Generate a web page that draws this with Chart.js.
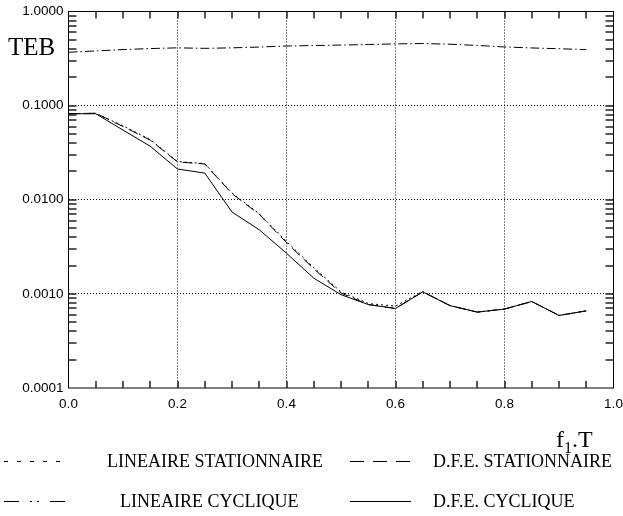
<!DOCTYPE html>
<html>
<head>
<meta charset="utf-8">
<script src="https://cdn.jsdelivr.net/npm/chart.js@4"></script>
<style>
  html, body { margin: 0; padding: 0; background: #fff; }
  #chart { display: block; }
</style>
</head>
<body>
<canvas id="chart" width="623" height="516"></canvas>
<script>
const fT = [0.00, 0.05, 0.10, 0.15, 0.20, 0.25, 0.30, 0.35, 0.40, 0.45,
            0.50, 0.55, 0.60, 0.65, 0.70, 0.75, 0.80, 0.85, 0.90, 0.95];

const lineaireStationnaire = [0.082, 0.083, 0.061, 0.0435, 0.0255, 0.0242, 0.0118, 0.0071, 0.0036, 0.0019,
                              0.00105, 0.00079, 0.00074, 0.00106, 0.00075, 0.00064, 0.00069, 0.00083, 0.00059, 0.00066];
const dfeStationnaire = [0.082, 0.083, 0.060, 0.043, 0.0252, 0.0240, 0.0116, 0.0070, 0.0035, 0.00185,
                         0.00102, 0.00077, 0.00070, 0.00105, 0.00075, 0.00064, 0.00069, 0.00083, 0.00059, 0.00066];
const lineaireCyclique = [0.369, 0.381, 0.394, 0.404, 0.411, 0.406, 0.411, 0.419, 0.430, 0.435,
                          0.440, 0.446, 0.453, 0.457, 0.449, 0.436, 0.420, 0.410, 0.402, 0.394];
const dfeCyclique = [0.082, 0.082, 0.055, 0.037, 0.0212, 0.0192, 0.0074, 0.0048, 0.0027, 0.00147,
                     0.00098, 0.00077, 0.00070, 0.00105, 0.00075, 0.00064, 0.00069, 0.00083, 0.00059, 0.00066];

const xTicks = [0.0, 0.2, 0.4, 0.6, 0.8, 1.0];
const yTicks = [0.0001, 0.001, 0.01, 0.1, 1];

const seriesLabels = ['LINEAIRE STATIONNAIRE', 'D.F.E. STATIONNAIRE', 'LINEAIRE CYCLIQUE', 'D.F.E. CYCLIQUE'];

function points(values) {
    return values.map((v, i) => ({ x: fT[i], y: v }));
}

// legend samples are drawn by hand, the dash patterns of the sample are not the line ones
const legendSpots = [
    { x: 4, y: 461, tx: 107, dash: [4, 9] },
    { x: 350, y: 461, tx: 433, dash: [14, 9] },
    { x: 4, y: 501, tx: 120, dash: [15, 11, 2, 5, 2, 11, 15] },
    { x: 350, y: 501, tx: 433, dash: [] }
];

const framePlugin = {
    id: 'frame',
    afterDraw(chart) {
        const ctx = chart.ctx;
        const a = chart.chartArea;
        const xs = chart.scales.x;
        const ys = chart.scales.y;

        ctx.save();
        ctx.setLineDash([]);
        ctx.strokeStyle = '#000';
        ctx.lineWidth = 1;
        ctx.strokeRect(a.left, a.top, a.right - a.left, a.bottom - a.top);

        // inward ticks: every 0.05 on x, 1..9 per decade on y
        ctx.strokeStyle = '#222';
        ctx.lineWidth = 1.5;
        ctx.beginPath();
        for (let k = 1; k < 20; k++) {
            const px = Math.round(xs.getPixelForValue(k / 20));
            ctx.moveTo(px, a.bottom);
            ctx.lineTo(px, a.bottom - 7);
            ctx.moveTo(px, a.top);
            ctx.lineTo(px, a.top + 7);
        }
        for (let d = -4; d < 0; d++) {
            for (let m = 1; m <= 9; m++) {
                if (d === -4 && m === 1) continue;
                const py = Math.round(ys.getPixelForValue(m * Math.pow(10, d)));
                ctx.moveTo(a.left, py);
                ctx.lineTo(a.left + 8, py);
                ctx.moveTo(a.right, py);
                ctx.lineTo(a.right - 8, py);
            }
        }
        ctx.stroke();
        ctx.strokeStyle = '#000';

        ctx.fillStyle = '#000';
        ctx.textBaseline = 'alphabetic';
        ctx.font = '25px "Liberation Serif"';
        ctx.fillText('TEB', 8, 55);

        ctx.font = '24px "Liberation Serif"';
        ctx.fillText('f', 556, 447);
        let w = ctx.measureText('f').width;
        ctx.font = '16px "Liberation Serif"';
        ctx.fillText('1', 556 + w, 453);
        w += ctx.measureText('1').width;
        ctx.font = '24px "Liberation Serif"';
        ctx.fillText('.T', 556 + w, 447);

        ctx.lineWidth = 1;
        ctx.font = '18px "Liberation Serif"';
        ctx.textBaseline = 'middle';
        legendSpots.forEach((s, i) => {
            ctx.beginPath();
            ctx.setLineDash(s.dash);
            ctx.moveTo(s.x, s.y + 0.5);
            ctx.lineTo(s.x + 61, s.y + 0.5);
            ctx.stroke();
            ctx.fillText(seriesLabels[i], s.tx, s.y + 1);
        });
        ctx.restore();
    }
};

new Chart(document.getElementById('chart'), {
    type: 'line',
    data: {
        datasets: [{
            label: seriesLabels[0],
            data: points(lineaireStationnaire),
            borderDash: [2, 3]
        }, {
            label: seriesLabels[1],
            data: points(dfeStationnaire),
            borderDash: [10, 6]
        }, {
            label: seriesLabels[2],
            data: points(lineaireCyclique),
            borderDash: [9, 3, 1.5, 3]
        }, {
            label: seriesLabels[3],
            data: points(dfeCyclique),
            borderDash: []
        }]
    },
    options: {
        responsive: false,
        animation: false,
        devicePixelRatio: 1,
        layout: { padding: { left: 0, right: 9.5, top: 11.5, bottom: 0 } },
        elements: {
            point: { radius: 0 },
            line: { borderColor: '#000', borderWidth: 1, tension: 0, fill: false }
        },
        plugins: {
            legend: { display: false },
            tooltip: { enabled: false }
        },
        scales: {
            x: {
                type: 'linear',
                min: 0,
                max: 1,
                afterBuildTicks: (scale) => { scale.ticks = xTicks.map(v => ({ value: v })); },
                afterFit: (scale) => { scale.height = 128; scale.paddingLeft = 0; scale.paddingRight = 0; },
                ticks: {
                    callback: (v) => Number(v).toFixed(1),
                    color: '#000',
                    font: { family: 'Liberation Sans', size: 13.5 },
                    padding: 8,
                    maxRotation: 0,
                    autoSkip: false
                },
                grid: {
                    color: (c) => (c.tick && (c.tick.value === 0 || c.tick.value === 1)) ? 'rgba(0,0,0,0)' : '#000',
                    lineWidth: 1,
                    drawTicks: false
                },
                border: { display: false, dash: [1, 2] }
            },
            y: {
                type: 'logarithmic',
                min: 0.0001,
                max: 1,
                afterBuildTicks: (scale) => { scale.ticks = yTicks.map(v => ({ value: v })); },
                afterFit: (scale) => { scale.width = 68.5; scale.paddingTop = 0; scale.paddingBottom = 0; },
                ticks: {
                    callback: (v) => Number(v).toFixed(4),
                    color: '#000',
                    font: { family: 'Liberation Sans', size: 13.5 },
                    padding: 5,
                    autoSkip: false
                },
                grid: {
                    color: (c) => (c.tick && (c.tick.value === 0.0001 || c.tick.value === 1)) ? 'rgba(0,0,0,0)' : '#000',
                    lineWidth: 1,
                    drawTicks: false
                },
                border: { display: false, dash: [1, 2] }
            }
        }
    },
    plugins: [framePlugin]
});
</script>
</body>
</html>
